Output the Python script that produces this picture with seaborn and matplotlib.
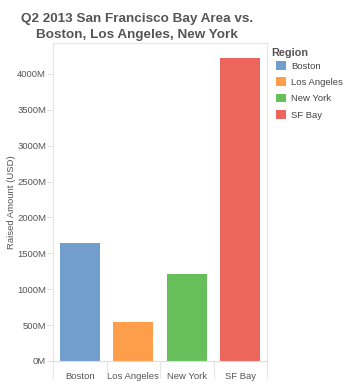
import matplotlib
matplotlib.use("Agg")
import matplotlib.pyplot as plt
import seaborn as sns
import pandas as pd
from matplotlib.patches import Patch
from matplotlib.lines import Line2D
from matplotlib.ticker import FuncFormatter

regions = ["Boston", "Los Angeles", "New York", "SF Bay"]
amounts_musd = [1650, 548, 1212, 4220]
colors = ["#729ECE", "#FF9E4A", "#67BF5C", "#ED665D"]
yticks = [0, 500, 1000, 1500, 2000, 2500, 3000, 3500, 4000]

df = pd.DataFrame({"Region": regions, "Amount": amounts_musd})

sns.set_theme(style="white")
plt.rcParams["font.family"] = ["Liberation Sans", "DejaVu Sans"]

W, H = 347, 387
fig = plt.figure(figsize=(W / 100, H / 100), dpi=100)
ax = fig.add_axes([53 / W, (H - 361) / H, 214 / W, (361 - 43) / H])

sns.barplot(data=df, x="Region", y="Amount", hue="Region", palette=colors,
            width=0.75, saturation=1, legend=False, ax=ax, edgecolor="none")

ax.set_xlim(-0.5, 3.5)
ax.set_ylim(0, 4430)
ax.set_yticks(yticks)
ax.yaxis.set_major_formatter(FuncFormatter(lambda v, p: f"{v:.0f}M"))
ax.set_xlabel("")
ax.set_ylabel("Raised Amount (USD)", fontsize=6.8, color="#555555", labelpad=1)

grey = "#dddddd"
for s in ax.spines.values():
    s.set_color("#e6e6e6")
    s.set_linewidth(0.8)
ax.spines["bottom"].set_color(grey)

ax.tick_params(axis="y", which="both", left=True, length=4, width=0.6,
               color=grey, labelsize=6.8, labelcolor="#555555", pad=1)
ax.tick_params(axis="x", bottom=False, labelsize=6.8, labelcolor="#555555", pad=2)

# category separators below the axis (Tableau style)
for xv in [0, 0.25, 0.5, 0.75, 1.0]:
    ax.add_line(Line2D([xv, xv], [0, -0.053], transform=ax.transAxes,
                       color="#e6e6e6", lw=0.8, clip_on=False))
ax.add_line(Line2D([-0.015, 0], [0, 0], transform=ax.transAxes,
                   color=grey, lw=0.8, clip_on=False))

title_kw = dict(ha="center", va="center", fontsize=9.7, fontweight="bold",
                color="#555555")
fig.text(137 / W, 1 - 19 / H, "Q2 2013 San Francisco Bay Area vs.", **title_kw)
fig.text(137 / W, 1 - 35 / H, "Boston, Los Angeles, New York", **title_kw)

# legend
fig.text(271 / W, 1 - 53.5 / H, "Region", ha="left", va="center",
         fontsize=7.8, fontweight="bold", color="#555555")
handles = [Patch(facecolor=c, edgecolor="none") for c in colors]
leg = fig.legend(handles, regions, loc="upper left",
                 bbox_to_anchor=(269 / W, 1 - 54.5 / H), frameon=False,
                 fontsize=6.8, handlelength=1.1, handleheight=1.02,
                 handletextpad=0.55, labelspacing=0.72, borderpad=0.2)
for t in leg.get_texts():
    t.set_color("#444444")

fig.savefig("out.png", dpi=100)
